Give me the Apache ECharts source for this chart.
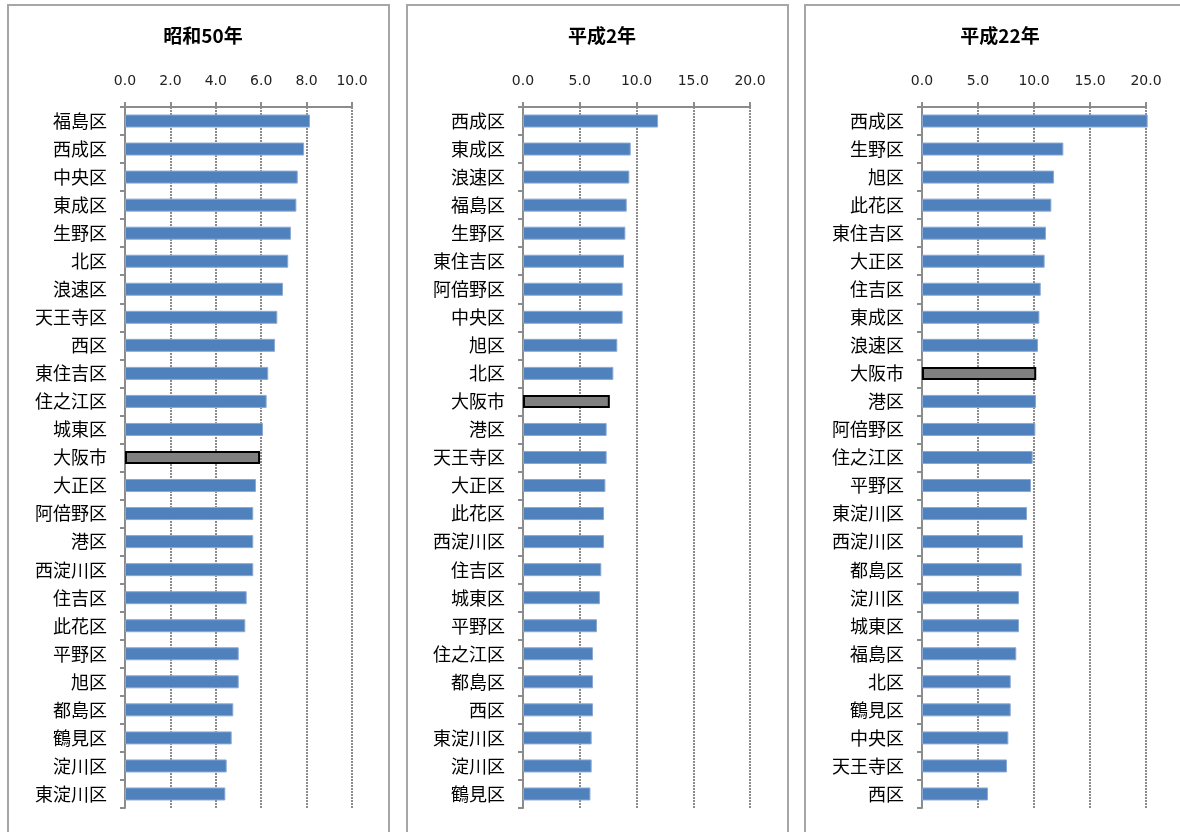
<!DOCTYPE html>
<html>
<head>
<meta charset="utf-8">
<script src="https://cdn.jsdelivr.net/npm/echarts@6/dist/echarts.min.js"></script>
<style>
html,body{margin:0;padding:0;background:#fff;}
#c{width:1180px;height:832px;}
</style>
</head>
<body>
<div id="c"></div>
<script>
// ---- Data ----
const titles = ['昭和50年', '平成2年', '平成22年'];

const categories1 = ['福島区','西成区','中央区','東成区','生野区','北区','浪速区','天王寺区','西区','東住吉区','住之江区','城東区','大阪市','大正区','阿倍野区','港区','西淀川区','住吉区','此花区','平野区','旭区','都島区','鶴見区','淀川区','東淀川区'];
const values1 = [8.15,7.89,7.61,7.55,7.31,7.19,6.96,6.71,6.61,6.31,6.24,6.08,5.95,5.77,5.65,5.65,5.65,5.36,5.30,5.01,5.01,4.77,4.70,4.48,4.42];

const categories2 = ['西成区','東成区','浪速区','福島区','生野区','東住吉区','阿倍野区','中央区','旭区','北区','大阪市','港区','天王寺区','大正区','此花区','西淀川区','住吉区','城東区','平野区','住之江区','都島区','西区','東淀川区','淀川区','鶴見区'];
const values2 = [11.9,9.49,9.37,9.14,9.02,8.90,8.78,8.78,8.31,7.96,7.65,7.37,7.37,7.26,7.14,7.14,6.90,6.78,6.52,6.17,6.17,6.17,6.05,6.05,5.94];

const categories3 = ['西成区','生野区','旭区','此花区','東住吉区','大正区','住吉区','東成区','浪速区','大阪市','港区','阿倍野区','住之江区','平野区','東淀川区','西淀川区','都島区','淀川区','城東区','福島区','北区','鶴見区','中央区','天王寺区','西区'];
const values3 = [20.15,12.62,11.79,11.55,11.07,10.95,10.60,10.48,10.36,10.20,10.18,10.12,9.88,9.73,9.38,9.02,8.90,8.66,8.66,8.42,7.92,7.92,7.71,7.59,5.89];

const axisMax = [10, 20, 20];
const axisInterval = [2, 5, 5];

// ---- Layout ----
const grids = [
  {left:125, top:107, width:227, height:701},
  {left:523, top:107, width:227, height:701},
  {left:922, top:107, width:224, height:701}
];
const boxes = [
  {x:8, y:5, w:381},
  {x:407, y:5, w:381},
  {x:805, y:5, w:400}
];
const titleCenters = [198, 597, 995];

const cats = [categories1, categories2, categories3];
const vals = [values1, values2, values3];

const HIGHLIGHT = '大阪市';

const option = {
  animation:false,
  backgroundColor:'#fff',
  title: titles.map((t,i)=>({
    text:t, left:titleCenters[i], top:21, textAlign:'center',
    textStyle:{fontFamily:'Noto Sans CJK JP', fontSize:19, fontWeight:'bold', color:'#000'}
  })),
  graphic: boxes.map(b=>({
    type:'rect', silent:true, z:-1,
    shape:{x:b.x, y:b.y, width:b.w, height:900},
    style:{fill:'none', stroke:'#a6a6a6', lineWidth:2}
  })),
  grid: grids.map(g=>Object.assign({containLabel:false}, g)),
  xAxis: grids.map((g,i)=>({
    type:'value', gridIndex:i, position:'top', min:0, max:axisMax[i], interval:axisInterval[i],
    axisLine:{show:true, lineStyle:{color:'#8c8c8c', width:2}},
    axisTick:{show:true, inside:false, length:5, lineStyle:{color:'#8c8c8c', width:2}},
    axisLabel:{formatter:v=>v.toFixed(1), fontFamily:'DejaVu Sans', fontSize:14, color:'#222', margin:19},
    splitLine:{show:true, lineStyle:{color:'#8c8c8c', type:[2,1], width:2}}
  })),
  yAxis: grids.map((g,i)=>({
    type:'category', gridIndex:i, inverse:true, data:cats[i],
    axisLine:{show:true, lineStyle:{color:'#8c8c8c', width:2}},
    axisTick:{show:true, inside:false, length:5, alignWithLabel:false, lineStyle:{color:'#8c8c8c', width:2}},
    axisLabel:{fontFamily:'Noto Sans CJK JP', fontSize:18, color:'#000', margin:18},
    splitLine:{show:false}
  })),
  series: vals.map((v,i)=>({
    type:'bar', xAxisIndex:i, yAxisIndex:i, barWidth:13, clip:false,
    data: v.map((x,k)=> cats[i][k]===HIGHLIGHT
      ? {value:x, itemStyle:{color:'#808080', borderColor:'#000', borderWidth:2}}
      : {value:x}),
    itemStyle:{color:'#4f81bd', borderColor:'#8aa8d4', borderWidth:1}
  }))
};

const chart = echarts.init(document.getElementById('c'), null, {renderer:'canvas'});
chart.setOption(option);
</script>
</body>
</html>
